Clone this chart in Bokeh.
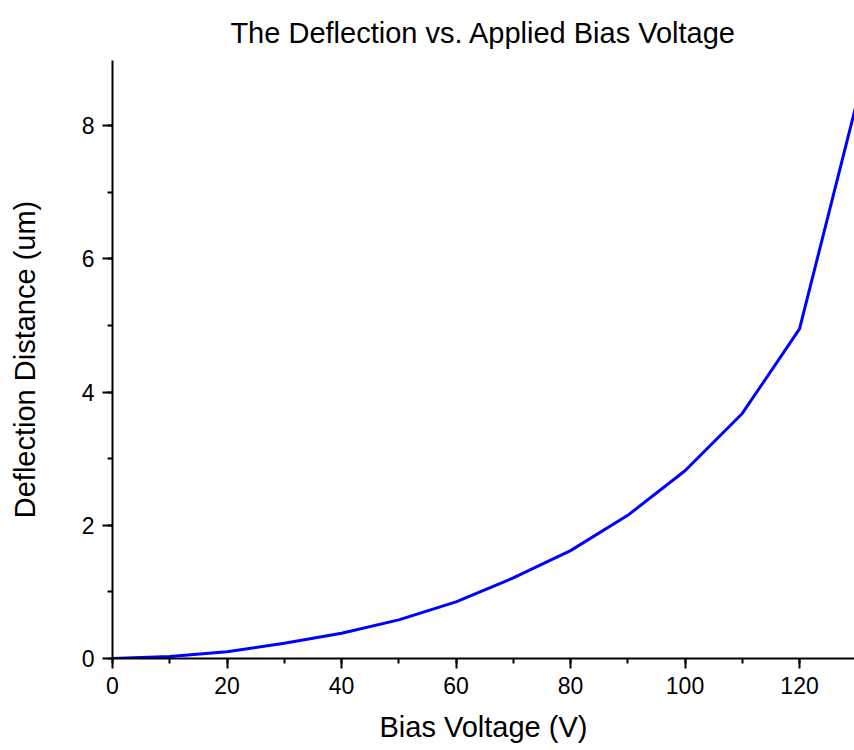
from bokeh.plotting import figure
from bokeh.models import Range1d, SingleIntervalTicker
from bokeh.embed import file_html
from bokeh.resources import INLINE

title_text = "The Deflection vs. Applied Bias Voltage"
voltage = [0, 10, 20, 30, 40, 50, 60, 70, 80, 90, 100, 110, 120, 130]
deflection = [0.0, 0.03, 0.10, 0.23, 0.38, 0.58, 0.85, 1.21, 1.62, 2.15, 2.82, 3.68, 4.95, 8.35]

FONT = "Liberation Sans"

p = figure(width=854, height=750, output_backend="svg", toolbar_location=None,
           x_range=Range1d(0, 129.6), y_range=Range1d(0, 8.98),
           min_border_left=112, min_border_right=0, min_border_top=60, min_border_bottom=92,
           title=title_text)
p.outline_line_color = None
p.xgrid.visible = False
p.ygrid.visible = False
p.background_fill_color = "white"
p.border_fill_color = "white"

p.title.align = "center"
p.title.text_font = FONT
p.title.text_font_size = "29px"
p.title.text_font_style = "normal"
p.title.text_color = "black"
p.title.standoff = 24

p.line(voltage, deflection, line_color="#0000ff", line_width=3)

p.xaxis.ticker = SingleIntervalTicker(interval=20, num_minor_ticks=2)
p.yaxis.ticker = SingleIntervalTicker(interval=2, num_minor_ticks=2)
p.xaxis.axis_label = "Bias Voltage (V)"
p.yaxis.axis_label = "Deflection Distance (um)"
for ax in (p.xaxis, p.yaxis):
    ax.axis_line_width = 2
    ax.axis_line_color = "black"
    ax.major_tick_line_width = 2
    ax.minor_tick_line_width = 2
    ax.major_tick_out = 10
    ax.major_tick_in = 0
    ax.minor_tick_out = 5
    ax.minor_tick_in = 0
    ax.major_label_text_font = FONT
    ax.major_label_text_font_size = "23px"
    ax.major_label_text_color = "black"
    ax.axis_label_text_font = FONT
    ax.axis_label_text_font_size = "29px"
    ax.axis_label_text_font_style = "normal"
    ax.axis_label_text_color = "black"
p.xaxis.major_label_standoff = 8
p.yaxis.major_label_standoff = 8
p.xaxis.axis_label_standoff = 14
p.yaxis.axis_label_standoff = 38

open("out.html", "w").write(file_html(p, INLINE))
